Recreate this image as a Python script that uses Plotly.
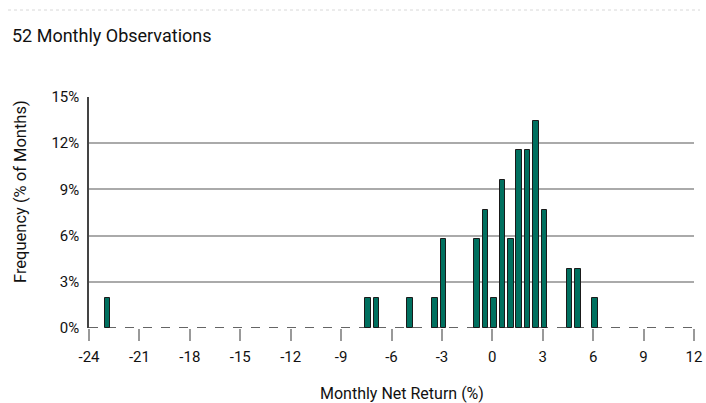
import plotly.graph_objects as go

# Bin centers (monthly net return, %) and frequency (% of months)
returns = [-22.9, -7.4, -6.9, -4.9, -3.4, -2.9, -0.9, -0.4, 0.1, 0.6, 1.1, 1.6, 2.1, 2.6, 3.1, 4.6, 5.1, 6.1]
freq_pct = [1.92, 1.92, 1.92, 1.92, 1.92, 5.77, 5.77, 7.69, 1.92, 9.62, 5.77, 11.54, 11.54, 13.46, 7.69, 3.85, 3.85, 1.92]
x_ticks = [-24, -21, -18, -15, -12, -9, -6, -3, 0, 3, 6, 9, 12]
y_ticks = [0, 3, 6, 9, 12, 15]
y_tick_labels = [f"{v}%" for v in y_ticks]

FONT = "Roboto, Liberation Sans Narrow, DejaVu Sans Condensed, sans-serif"

W, H = 706, 403
L, R, T, B = 89, 694, 97, 328

def px(x):
    return (x - L) / (R - L)

def py(y):
    return (B - y) / (B - T)

fig = go.Figure()
fig.add_trace(go.Bar(
    x=returns, y=freq_pct, width=0.33,
    marker=dict(color="#00705f", line=dict(color="#1a1a1a", width=1)),
    hoverinfo="x+y",
))

fig.update_layout(
    width=W, height=H, autosize=False,
    margin=dict(l=L, r=W - R, t=T, b=H - B, pad=0),
    paper_bgcolor="white", plot_bgcolor="white",
    showlegend=False,
    font=dict(family=FONT, size=15, color="#111"),
    xaxis=dict(
        range=[-24, 12.0001], tickvals=x_ticks, ticktext=[str(v) for v in x_ticks],
        showgrid=False, zeroline=False, showline=False, automargin=False,
        ticks="outside", ticklen=12, tickwidth=1.5, tickcolor="#999",
        ticklabelstandoff=3, ticklabeloverflow="allow",
        tickfont=dict(size=15, family=FONT, color="#111"),
    ),
    yaxis=dict(
        range=[0, 15], tickvals=y_ticks, ticktext=y_tick_labels,
        showgrid=True, gridcolor="#aaaaaa", gridwidth=1.5, automargin=False,
        zeroline=False, showline=True, linecolor="#444", linewidth=1.5,
        ticks="", ticklabelstandoff=5,
        tickfont=dict(size=15, family=FONT, color="#111"),
    ),
    bargap=0,
)

# dashed baseline at 0%
fig.add_shape(type="line", xref="paper", yref="y", x0=0, x1=1, y0=0, y1=0,
              line=dict(color="#333", width=1.5, dash="dash"), layer="below")
# dotted rule at top
fig.add_shape(type="line", xref="paper", yref="paper",
              x0=px(8), x1=px(700), y0=py(10), y1=py(10),
              line=dict(color="#d8d8d8", width=1, dash="dot"))

fig.add_annotation(text="52 Monthly Observations", xref="paper", yref="paper",
                   x=px(10), y=py(35),
                   xanchor="left", yanchor="middle", showarrow=False,
                   font=dict(size=18, family=FONT, color="#111"))
fig.add_annotation(text="Frequency (% of Months)", xref="paper", yref="paper",
                   x=px(20), y=py(192), textangle=-90,
                   xanchor="center", yanchor="middle", showarrow=False,
                   font=dict(size=16.5, family=FONT, color="#111"))
fig.add_annotation(text="Monthly Net Return (%)", xref="paper", yref="paper",
                   x=px(402), y=py(393),
                   xanchor="center", yanchor="middle", showarrow=False,
                   font=dict(size=16, family=FONT, color="#111"))

fig.write_html("out.html", config={"responsive": False, "displayModeBar": False},
               post_script="document.body.style.margin='0';document.body.style.overflow='hidden';")
